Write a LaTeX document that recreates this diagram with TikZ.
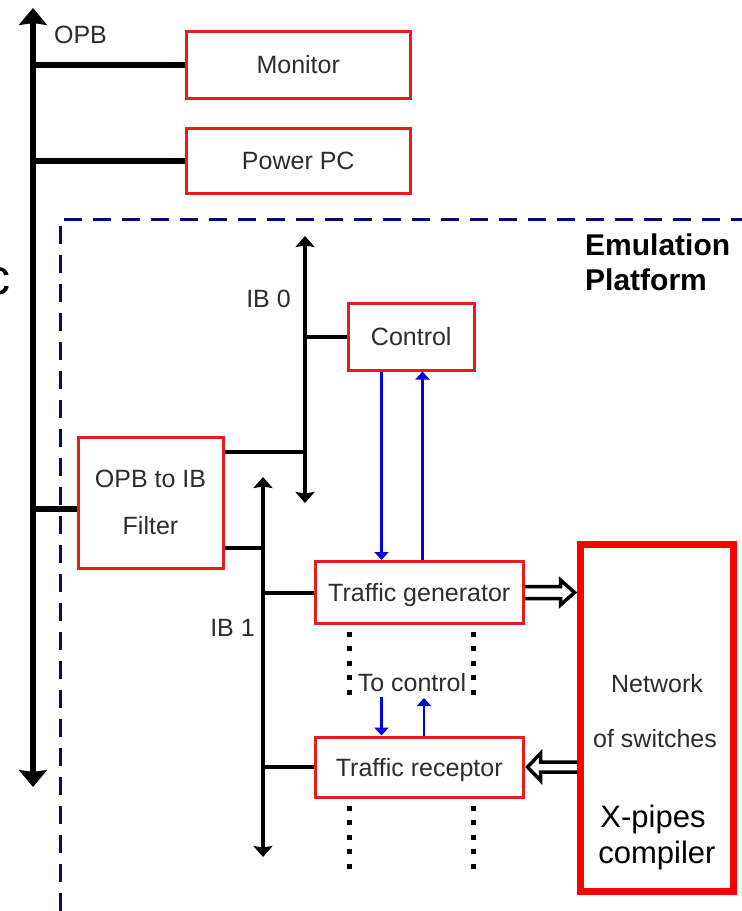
\documentclass[tikz,border=0pt]{standalone}
\usepackage{fontspec}
\setmainfont{Liberation Sans}
\usetikzlibrary{arrows.meta,calc}
\definecolor{boxred}{RGB}{226,30,30}
\definecolor{netred}{RGB}{250,0,0}
\definecolor{navyd}{RGB}{10,10,110}
\definecolor{txtgray}{RGB}{45,45,45}
\definecolor{arrblue}{RGB}{0,0,230}
\begin{document}
\begin{tikzpicture}[x=1pt,y=-1pt,
  lbl/.style={font=\fontsize{25}{30}\selectfont, text=txtgray, inner sep=0pt, text height=18pt, text depth=0pt},
  bigtxt/.style={font=\fontsize{31}{36}\selectfont, text=black, inner sep=0pt, text height=22pt, text depth=0pt},
  titletxt/.style={font=\bfseries\fontsize{30}{36}\selectfont, text=black, inner sep=0pt, anchor=base west},
  blockbox/.style={draw=boxred, line width=3pt, fill=white, inner sep=0pt, lbl},
  netbox/.style={draw=netred, line width=7pt, fill=white, inner sep=0pt},
  opbbus/.style={line width=6.5pt, {Stealth[width=28pt,length=17pt,inset=2pt]}-{Stealth[width=28pt,length=17pt,inset=2pt]}},
  ibbus/.style={line width=4pt, {Stealth[width=19pt,length=11pt,inset=1.5pt]}-{Stealth[width=19pt,length=11pt,inset=1.5pt]}},
  conn6/.style={line width=6pt},
  conn4/.style={line width=4pt},
  bluearr/.style={draw=arrblue, line width=2.5pt, -{Triangle[width=14pt,length=8pt]}},
  dotline/.style={line width=5pt, dash pattern=on 5pt off 9.4pt},
  openarr/.style={line width=3.5pt, line join=miter},
  platform/.style={draw=navyd, line width=3pt, dash pattern=on 18pt off 11pt}
]
\useasboundingbox (0,0) rectangle (742,911);
\fill[white] (0,0) rectangle (742,911);

% partially visible letter at the left edge
\node[inner sep=0pt, anchor=east, font=\fontsize{50}{60}\selectfont] (cut) at (11,281.5) {c};

% emulation platform frame
\draw[platform] (60,940) -- (60,219) -- (760,219);
\node[titletxt] (em1) at (585,255) {Emulation};
\node[titletxt] (em2) at (585,290) {Platform};

% bus end points
\coordinate (opbT) at (33,8);
\coordinate (opbB) at (33,787);
\coordinate (ib0T) at (305,236);
\coordinate (ib0B) at (305,503);
\coordinate (ib1T) at (263,477);
\coordinate (ib1B) at (263,857);

% blocks
\node[blockbox, minimum width=223.5pt, minimum height=67pt] (mon) at (298.25,64.5) {Monitor};
\node[blockbox, minimum width=223.5pt, minimum height=65.5pt] (ppc) at (298.25,160.75) {Power PC};
\node[blockbox, minimum width=126.5pt, minimum height=66.5pt] (ctrl) at (411.25,336.75) {Control};
\node[blockbox, minimum width=144.5pt, minimum height=130.5pt] (filt) at (150.75,502.75) {};
\node[lbl] (filt1) at (150.5,478) {OPB to IB};
\node[lbl] (filt2) at (150.5,525) {Filter};
\node[blockbox, minimum width=208.5pt, minimum height=62pt] (gen) at (419.25,592.5) {Traffic generator};
\node[blockbox, minimum width=208.5pt, minimum height=60pt] (rec) at (419.25,767) {Traffic receptor};
\node[netbox, minimum width=152.5pt, minimum height=346.5pt] (net) at (656.75,717.75) {};
\node[lbl] (net1) at (657,683) {Network};
\node[lbl] (net2) at (655,738) {of switches};
\node[bigtxt] (net3) at (653,816) {X-pipes};
\node[bigtxt] (net4) at (657,852) {compiler};

% labels
\node[lbl] (opbl) at (80.5,34) {OPB};
\node[lbl] (ib0l) at (268.5,298) {IB 0};
\node[lbl] (ib1l) at (232.5,627) {IB 1};
\node[lbl] (tocl) at (412,682) {To control};

% OPB bus
\draw[opbbus] (opbT) -- (opbB);
\draw[conn6] (opbT |- mon.west) -- (mon.west);
\draw[conn6] (opbT |- ppc.west) -- (ppc.west);
\coordinate (fw) at ($(filt.west)+(0,6)$);
\draw[conn6] (opbT |- fw) -- (fw);

% IB 0
\draw[ibbus] (ib0T) -- (ib0B);
\draw[conn4] (ib0T |- ctrl.west) -- (ctrl.west);
\coordinate (fe0) at ($(filt.east)+(0,-51)$);
\draw[conn4] (fe0) -- (ib0T |- fe0);

% IB 1
\draw[ibbus] (ib1T) -- (ib1B);
\coordinate (fe1) at ($(filt.east)+(0,45)$);
\draw[conn4] (fe1) -- (ib1T |- fe1);
\draw[conn4] (ib1T |- gen.west) -- (gen.west);
\draw[conn4] (ib1T |- rec.west) -- (rec.west);

% blue control arrows
\coordinate (bx1) at (381.5,0);
\coordinate (bx2) at (422.5,0);
\draw[bluearr] (bx1 |- ctrl.south) -- (bx1 |- gen.north);
\draw[bluearr] (bx2 |- gen.north) -- (bx2 |- ctrl.south);
\coordinate (tc1) at (381.5,697);
\coordinate (tc2) at (424,698);
\draw[bluearr] (tc1) -- (tc1 |- rec.north);
\draw[bluearr] (tc2 |- rec.north) -- (tc2);

% dotted continuations
\coordinate (da1) at (349.5,632); \coordinate (da2) at (349.5,696);
\coordinate (db1) at (473,632);   \coordinate (db2) at (473,696);
\coordinate (dc1) at (349.5,806); \coordinate (dc2) at (349.5,871);
\coordinate (dd1) at (473,806);   \coordinate (dd2) at (473,871);
\draw[dotline] (da1) -- (da2);
\draw[dotline] (db1) -- (db2);
\draw[dotline] (dc1) -- (dc2);
\draw[dotline] (dd1) -- (dd2);

% hollow double arrows
\coordinate (g0) at (gen.east);
\coordinate (gt) at ($(net.west |- gen.east)+(-2.5,0)$);
\draw[openarr] ($(g0)+(0,-6)$) -- ($(gt)+(-14,-6)$) -- ($(gt)+(-14,-12.5)$) -- (gt)
  -- ($(gt)+(-14,12.5)$) -- ($(gt)+(-14,6)$) -- ($(g0)+(0,6)$);
\coordinate (r0) at ($(rec.east)+(2.5,0)$);
\coordinate (rt) at (net.west |- rec.east);
\draw[openarr] ($(rt)+(0,-5)$) -- ($(r0)+(13,-5)$) -- ($(r0)+(13,-13.5)$) -- (r0)
  -- ($(r0)+(13,13.5)$) -- ($(r0)+(13,5)$) -- ($(rt)+(0,5)$);
\end{tikzpicture}
\end{document}
